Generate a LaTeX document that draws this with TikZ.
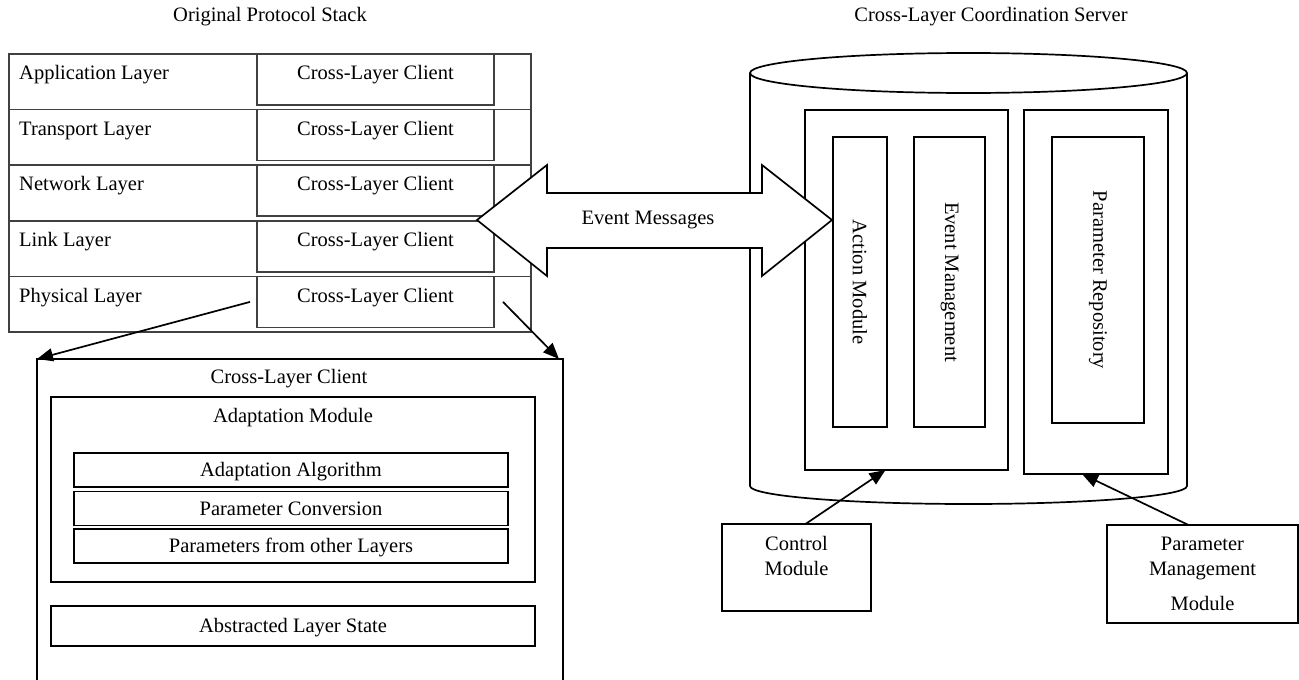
\documentclass[tikz,border=0pt]{standalone}
\usepackage{fontspec}
\setmainfont{Liberation Serif}
\usepackage{tikz}
\usetikzlibrary{arrows.meta}
\usetikzlibrary{positioning}
\usetikzlibrary{calc}
\tikzset{
  box/.style={draw, line width=1.7pt, inner sep=0pt, outer sep=0pt},
  stackbox/.style={draw=black!75, line width=1.7pt, inner sep=0pt, outer sep=0pt},
  txt/.style={inner sep=0pt, text height=18pt, text depth=4.5pt},
  vtxt/.style={inner sep=0pt, rotate=-90},
  arr/.style={line width=1.7pt, -{Triangle[length=16pt,width=13pt]}}
}

\begin{document}
\begin{tikzpicture}[x=1pt,y=-1pt,font={\fontsize{20.5pt}{25pt}\selectfont}]
\useasboundingbox (0,0) rectangle (1299,680);
\node[txt] (ttlstack) at (270,15) {Original Protocol Stack};
\node[txt] (ttlserver) at (991,15) {Cross-Layer Coordination Server};

%% protocol stack
\foreach \i/\lname in {1/Application Layer, 2/Transport Layer, 3/Network Layer, 4/Link Layer, 5/Physical Layer}{
   \node[stackbox, anchor=north west, minimum width=522pt, minimum height=55.6pt] (row\i) at (9,{54+(\i-1)*55.6}) {};
   \node[stackbox, anchor=north west, minimum width=237pt, minimum height=51pt] (cl\i) at (257,{54+(\i-1)*55.6}) {};
   \node[txt, anchor=west] (lname\i) at ([xshift=10pt,yshift=-19pt]row\i.north west) {\lname};
   \node[txt] (clname\i) at ([yshift=-19pt]cl\i.north) {Cross-Layer Client};
}

%% cross-layer client (open at the bottom)
\node[box, anchor=north west, minimum width=526pt, minimum height=345pt] (ccl) at (37,359) {};
\node[txt] (ccltitle) at (289,377) {Cross-Layer Client};
\node[box, anchor=north west, minimum width=484pt, minimum height=185pt] (adapt) at (51,397) {};
\node[txt] (adapttitle) at ([yshift=-19pt]adapt.north) {Adaptation Module};
\foreach \j/\aname/\atop in {1/Adaptation Algorithm/453, 2/Parameter Conversion/491.5, 3/Parameters from other Layers/529}{
   \node[box, anchor=north west, minimum width=434pt, minimum height=34pt] (alg\j) at (74,\atop) {};
   \node[txt] (algname\j) at (alg\j) {\aname};
}
\node[box, anchor=north west, minimum width=484pt, minimum height=40pt] (state) at (51,606) {};
\node[txt] (statename) at (state) {Abstracted Layer State};

\coordinate (s1) at ([xshift=-7pt]cl5.west);
\coordinate (s2) at ([xshift=9pt]cl5.east);
\draw[arr] (s1) -- (ccl.north west);
\draw[arr] (s2) -- ([xshift=-4pt]ccl.north east);

%% coordination server
\draw[line width=1.7pt] (968.5,73) ellipse [x radius=218.5pt, y radius=20pt];
\draw[line width=1.7pt] (750,73) -- (750,486) .. controls (750,496) and (848,504) .. (968.5,504)
   .. controls (1089,504) and (1187,496) .. (1187,486) -- (1187,73);
\node[box, anchor=north west, minimum width=203pt, minimum height=360pt] (evbox) at (805,110) {};
\node[box, anchor=north west, minimum width=144pt, minimum height=364pt] (parbox) at (1024,110) {};
\node[box, anchor=north west, minimum width=54pt, minimum height=290pt] (act) at (833,137) {};
\node[box, anchor=north west, minimum width=71pt, minimum height=290pt] (evm) at (914,137) {};
\node[box, anchor=north west, minimum width=92pt, minimum height=286pt] (prep) at (1052,137) {};
\node[vtxt] (actname) at (act) {Action Module};
\node[vtxt] (evmname) at (evm) {Event Management};
\node[vtxt] (prepname) at (prep) {Parameter Repository};

\node[box, anchor=north west, minimum width=149pt, minimum height=87pt] (ctrl) at (722,524) {};
\node[inner sep=0pt, align=center, anchor=north] (ctrlname) at ([yshift=-12pt]ctrl.north) {Control\\Module};
\node[box, anchor=north west, minimum width=191pt, minimum height=98pt] (pmm) at (1107,525) {};
\node[inner sep=0pt, align=center, anchor=north] (pmmname) at ([yshift=-12pt]pmm.north) {Parameter\\Management\\[10pt]Module};
\draw[arr] ([xshift=9pt]ctrl.north) -- ([xshift=-21pt]evbox.south);
\draw[arr] ([xshift=-14pt]pmm.north) -- ([xshift=-14pt]parbox.south);

%% event messages
\draw[line width=1.7pt, fill=white] (477,220) -- (547,165) -- (547,193) -- (762,193) -- (762,165)
   -- (832,220) -- (762,276) -- (762,248) -- (547,248) -- (547,276) -- cycle;
\node[txt] (evmsg) at (648,218) {Event Messages};
\end{tikzpicture}
\end{document}
